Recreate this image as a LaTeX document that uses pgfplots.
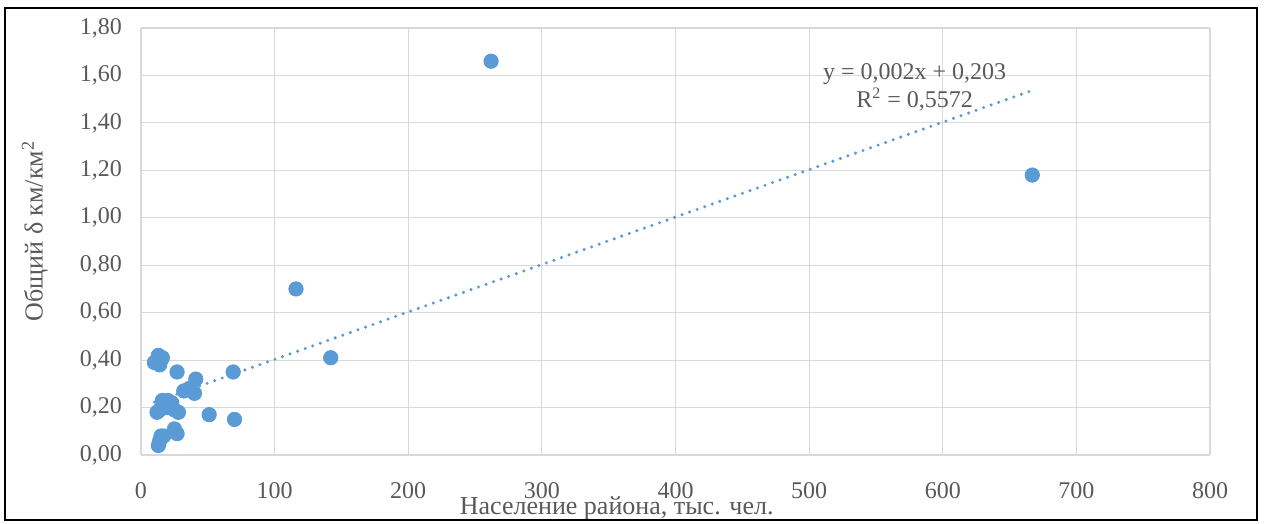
\documentclass[border=0pt]{standalone}
\usepackage{pgfplots}
\pgfplotsset{compat=1.18}
\usepackage{fontspec}
\setmainfont{Liberation Serif}
\definecolor{pt}{HTML}{5B9BD5}
\definecolor{txt}{HTML}{595959}
\definecolor{grd}{HTML}{D9D9D9}
\begin{document}
\begin{tikzpicture}
\begin{axis}[name=ax,
  scale only axis, width=534.5pt, height=213.5pt,
  xmin=0, xmax=800, ymin=0, ymax=1.8,
  xtick={0,100,...,800}, ytick={0,0.2,...,1.8},
  grid=major, major grid style={grd, line width=0.6pt},
  axis line style={grd, line width=0.8pt},
  axis x line*=bottom, axis y line*=left,
  major tick length=0pt,
  tick label style={font=\fontsize{12}{14}\selectfont, text=txt},
  /pgf/number format/assume math mode=true,
  yticklabel style={/pgf/number format/fixed, /pgf/number format/fixed zerofill, /pgf/number format/precision=2, /pgf/number format/use comma, xshift=-6pt},
  xticklabel style={/pgf/number format/fixed, /pgf/number format/1000 sep={}, yshift=-10pt},
  clip=false,
]
\addplot[pt, line width=1.7pt, line cap=round, dash pattern=on 0pt off 4pt] coordinates {(10,0.223) (667,1.537)};
\addplot[only marks, mark=*, mark size=3.6pt, mark options={fill=pt, draw=pt}] coordinates {
(10,0.39) (13,0.42) (14,0.38) (16,0.41) (15,0.40)
(27,0.35) (41,0.32) (32,0.27) (36,0.28) (40,0.26)
(69,0.35) (142,0.41) (51,0.17) (70,0.15)
(12,0.18) (16,0.23) (20,0.23) (23,0.22) (25,0.19) (28,0.18) (19,0.20) (14,0.19)
(25,0.11) (27,0.09) (15,0.08) (17,0.08) (13,0.04) (14,0.06)
(116,0.70) (262,1.66) (667,1.18)
};
\node[align=center, text=txt, font=\fontsize{12}{14}\selectfont, inner sep=0pt] at (axis cs:579,1.55) {y = 0,002x + 0,203\\R\textsuperscript{2} = 0,5572};
\node[text=txt, font=\fontsize{13}{15}\selectfont, inner sep=0pt] at (axis cs:356,0) [yshift=-26.5pt] {Население района, тыс. чел.};
\end{axis}
\node[rotate=90, text=txt, font=\fontsize{13}{15}\selectfont, inner sep=0pt] at ([shift={(-53pt,-101.5pt)}]ax.north west) {Общий δ км/км\textsuperscript{2}};
\draw[black, line width=1pt] ([shift={(-68pt,-32.5pt)}]ax.south west) rectangle ([shift={(23.5pt,10pt)}]ax.north east);
\path[use as bounding box] ([shift={(-70.5pt,-34.5pt)}]ax.south west) rectangle ([shift={(27pt,14pt)}]ax.north east);
\end{tikzpicture}
\end{document}
